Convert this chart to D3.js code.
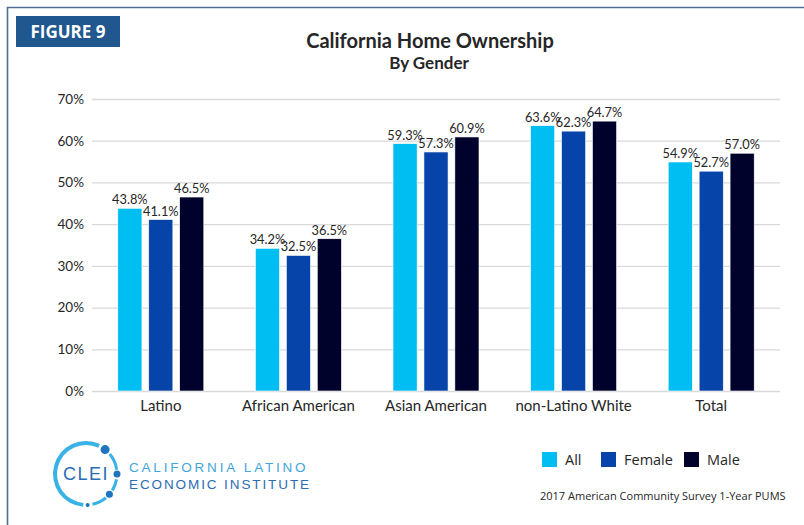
<!DOCTYPE html>
<html>
<head>
<meta charset="utf-8">
<script src="https://cdn.jsdelivr.net/npm/d3@7"></script>
<style>
  html, body { margin: 0; padding: 0; background: #fff; }
  svg { display: block; }
  .grid line { stroke: #d9d9d9; stroke-width: 1.3; }
  .grid .domain { display: none; }
  .ylab text, .xlab text { font-family: Lato, sans-serif; fill: #262626; }
</style>
</head>
<body>
<svg id="chart" width="804" height="525"></svg>
<script>
  const categories = ["Latino", "African American", "Asian American", "non-Latino White", "Total"];
  const series = ["All", "Female", "Male"];
  const allValues = [43.8, 34.2, 59.3, 63.6, 54.9];
  const femaleValues = [41.1, 32.5, 57.3, 62.3, 52.7];
  const maleValues = [46.5, 36.5, 60.9, 64.7, 57.0];
  const yTicks = [0, 10, 20, 30, 40, 50, 60, 70];
  const colors = ["#00bdf2", "#0744aa", "#01022b"];

  const svg = d3.select("#chart");
  const W = 804, H = 525;

  // frame
  svg.append("path")
    .attr("d", "M7.5," + H + " V7.5 H" + W)
    .attr("fill", "none")
    .attr("stroke", "#4f6f98")
    .attr("stroke-width", 1.6);

  // badge
  svg.append("rect").attr("x", 16).attr("y", 16).attr("width", 104).attr("height", 31).attr("fill", "#20578f");
  svg.append("text").attr("x", 68).attr("y", 38).attr("text-anchor", "middle")
    .attr("font-family", "'Open Sans', sans-serif").attr("font-weight", 700).attr("font-size", 17)
    .attr("fill", "#fff").text("FIGURE 9");

  // titles
  svg.append("text").attr("x", 430).attr("y", 48).attr("text-anchor", "middle")
    .attr("font-family", "Lato, sans-serif").attr("font-weight", 700).attr("font-size", 20)
    .attr("fill", "#262626").text("California Home Ownership");
  svg.append("text").attr("x", 429).attr("y", 69).attr("text-anchor", "middle")
    .attr("font-family", "Lato, sans-serif").attr("font-weight", 700).attr("font-size", 17)
    .attr("fill", "#262626").text("By Gender");

  const plotL = 92, plotR = 780, plotT = 99, plotB = 391;

  const x = d3.scaleBand().domain(categories).range([plotL, plotR])
    .paddingInner(0.375).paddingOuter(0.1875);
  const xs = d3.scaleBand().domain(series).range([0, x.bandwidth()]).paddingInner(0.22);
  const y = d3.scaleLinear().domain([0, 70]).range([plotB, plotT]);

  svg.append("g").attr("class", "grid")
    .attr("transform", "translate(" + plotL + ",0)")
    .call(d3.axisLeft(y).tickValues(yTicks).tickSize(-(plotR - plotL)).tickFormat(""));

  svg.append("g").attr("class", "ylab")
    .attr("transform", "translate(" + plotL + ",0)")
    .call(d3.axisLeft(y).tickValues(yTicks).tickSize(0).tickPadding(8).tickFormat(d => d + "%"))
    .call(g => g.select(".domain").remove())
    .selectAll("text").attr("font-size", 13.5);

  svg.append("g").attr("class", "xlab")
    .attr("transform", "translate(0," + plotB + ")")
    .call(d3.axisBottom(x).tickSize(0).tickPadding(9))
    .call(g => g.select(".domain").remove())
    .selectAll("text").attr("font-size", 15);

  const valueSets = [allValues, femaleValues, maleValues];
  const rows = [];
  categories.forEach((c, i) => {
    series.forEach((s, j) => rows.push({ cat: c, ser: s, v: valueSets[j][i], color: colors[j] }));
  });

  const bars = svg.append("g");
  bars.selectAll("rect")
    .data(rows)
    .join("rect")
    .attr("x", d => x(d.cat) + xs(d.ser))
    .attr("y", d => y(d.v))
    .attr("width", xs.bandwidth())
    .attr("height", d => plotB - y(d.v))
    .attr("fill", d => d.color)
    .attr("stroke", "#ffffff")
    .attr("stroke-width", 0.6);

  bars.selectAll("text")
    .data(rows)
    .join("text")
    .attr("x", d => x(d.cat) + xs(d.ser) + xs.bandwidth() / 2)
    .attr("y", d => y(d.v) - 4)
    .attr("text-anchor", "middle")
    .attr("font-family", "Lato, sans-serif")
    .attr("font-size", 12.8)
    .attr("fill", "#262626")
    .text(d => d.v.toFixed(1) + "%");

  // legend
  const legendX = [542, 601, 684];
  const lg = svg.append("g");
  series.forEach((s, i) => {
    lg.append("rect").attr("x", legendX[i]).attr("y", 452).attr("width", 15).attr("height", 15).attr("fill", colors[i]);
    lg.append("text").attr("x", legendX[i] + 23).attr("y", 465)
      .attr("font-family", "'Open Sans', sans-serif").attr("font-size", 14.5)
      .attr("fill", "#262626").text(s);
  });

  svg.append("text").attr("x", 540).attr("y", 500)
    .attr("font-family", "'Open Sans', sans-serif").attr("font-size", 11)
    .attr("fill", "#262626").text("2017 American Community Survey 1-Year PUMS");

  // CLEI logo
  const logo = svg.append("g").attr("transform", "translate(86,474)");
  const deg = Math.PI / 180;
  const arc = d3.arc();
  logo.append("path")
    .attr("d", arc({ innerRadius: 29, outerRadius: 33, startAngle: 185 * deg, endAngle: 385 * deg }))
    .attr("fill", "#3ab2e6");
  [[50, 82], [100, 122], [140, 168]].forEach(a => {
    logo.append("path")
      .attr("d", arc({ innerRadius: 29.5, outerRadius: 32.5, startAngle: a[0] * deg, endAngle: a[1] * deg }))
      .attr("fill", "#3ab2e6");
  });
  [[38, 4.5], [90, 3.5], [131, 3.5], [177, 2]].forEach(d => {
    logo.append("circle")
      .attr("cx", 31 * Math.sin(d[0] * deg))
      .attr("cy", -31 * Math.cos(d[0] * deg))
      .attr("r", d[1])
      .attr("fill", "#1f74c0");
  });
  logo.append("text").attr("x", 0).attr("y", 6).attr("text-anchor", "middle")
    .attr("font-family", "'Liberation Sans', Arial, sans-serif").attr("font-size", 18)
    .attr("letter-spacing", 1.5).attr("fill", "#2b6db3").text("CLEI");

  svg.append("text").attr("x", 129).attr("y", 472)
    .attr("font-family", "'Liberation Sans', Arial, sans-serif").attr("font-size", 13.5)
    .attr("letter-spacing", 2.8).attr("fill", "#3fa5dc").text("CALIFORNIA LATINO");
  svg.append("text").attr("x", 129).attr("y", 489)
    .attr("font-family", "'Liberation Sans', Arial, sans-serif").attr("font-size", 13.5)
    .attr("letter-spacing", 1.9).attr("fill", "#2b6db3").text("ECONOMIC INSTITUTE");
</script>
</body>
</html>
